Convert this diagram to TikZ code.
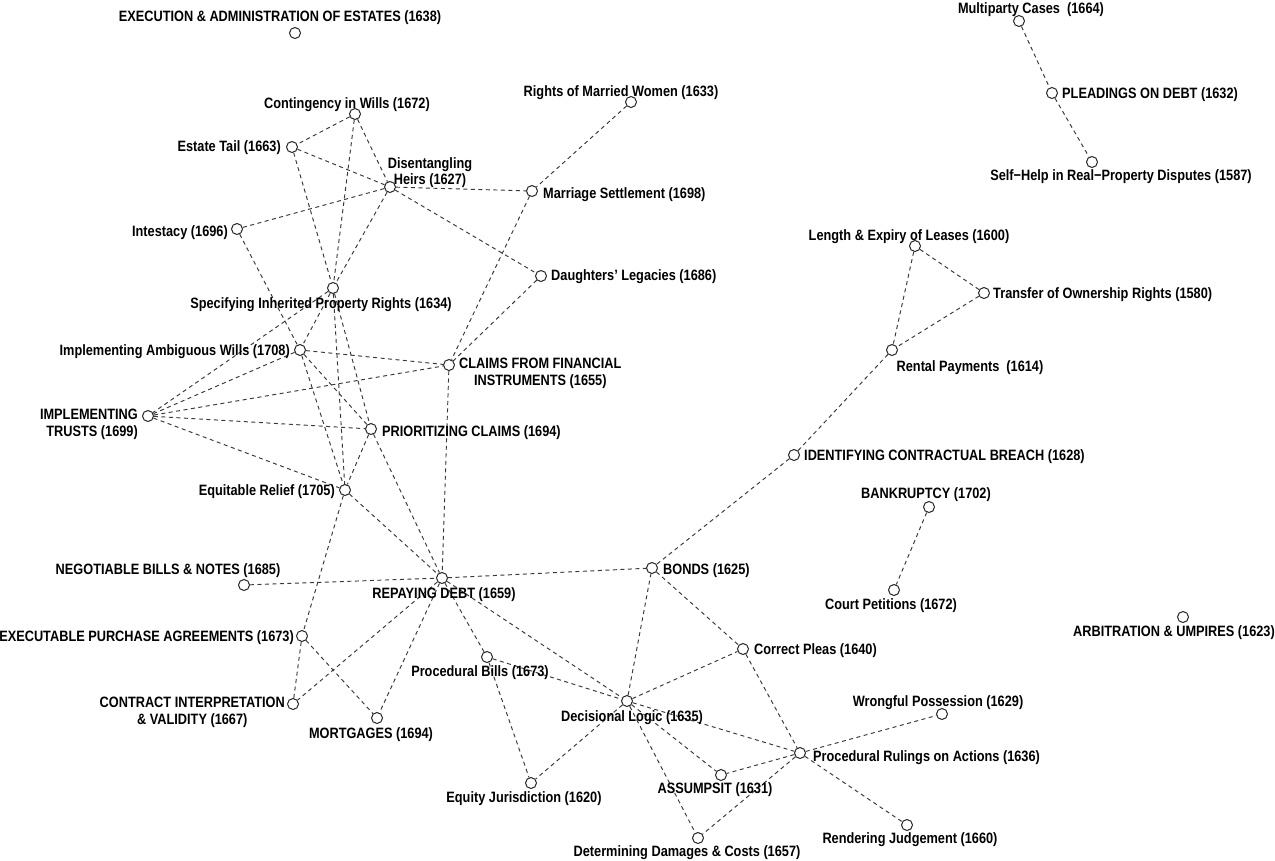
\documentclass[tikz,border=0pt]{standalone}
\usepackage{fontspec}
\setmainfont{Liberation Sans}[FakeStretch=0.85]
\usetikzlibrary{backgrounds}
\begin{document}
\begin{tikzpicture}[x=1pt,y=-1pt,
  vtx/.style={circle, draw=black!85, fill=white, line width=1pt, minimum size=11pt, inner sep=0pt},
  lbl/.style={inner sep=0pt, yshift=-1.5pt, font=\bfseries\fontsize{15}{16.5}\selectfont, text=black},
  lnk/.style={draw=black!78, line width=0.95pt, dash pattern=on 4pt off 3.5pt}]
\useasboundingbox (0,0) rectangle (1275,860);
% vertices
\node[vtx] (exec) at (295,33) {};
\node[vtx] (multi) at (1019,21) {};
\node[vtx] (plead) at (1052,93) {};
\node[vtx] (selfhelp) at (1092,162) {};
\node[vtx] (cont) at (355,114) {};
\node[vtx] (etail) at (292,147) {};
\node[vtx] (dis) at (390,187) {};
\node[vtx] (rights) at (631,102) {};
\node[vtx] (marr) at (532,191) {};
\node[vtx] (intest) at (237,229) {};
\node[vtx] (daught) at (541,276) {};
\node[vtx] (spec) at (333,288) {};
\node[vtx] (ambig) at (300,350) {};
\node[vtx] (claims) at (449,365) {};
\node[vtx] (trusts) at (148,416) {};
\node[vtx] (prior) at (371,429) {};
\node[vtx] (ident) at (794,455) {};
\node[vtx] (equit) at (345,490) {};
\node[vtx] (bankr) at (929,507) {};
\node[vtx] (negot) at (244,585) {};
\node[vtx] (repay) at (442,578) {};
\node[vtx] (bonds) at (652,568) {};
\node[vtx] (court) at (894,590) {};
\node[vtx] (arbit) at (1183,617) {};
\node[vtx] (purch) at (302,636) {};
\node[vtx] (pleas) at (743,649) {};
\node[vtx] (pbills) at (487,657) {};
\node[vtx] (contract) at (293,704) {};
\node[vtx] (wrong) at (942,714) {};
\node[vtx] (decis) at (627,701) {};
\node[vtx] (mortg) at (377,718) {};
\node[vtx] (rulings) at (800,753) {};
\node[vtx] (assump) at (721,775) {};
\node[vtx] (equity) at (531,783) {};
\node[vtx] (render) at (907,825) {};
\node[vtx] (damages) at (698,838) {};
\node[vtx] (length) at (915,246) {};
\node[vtx] (transfer) at (984,293) {};
\node[vtx] (rental) at (892,350) {};
% labels
\node[lbl] (l-exec) at (280,16) {EXECUTION \& ADMINISTRATION OF ESTATES (1638)};
\node[lbl] (l-multi) at (1031,8) {Multiparty Cases\ \ (1664)};
\node[lbl, anchor=west] (l-plead) at (1062,93) {PLEADINGS ON DEBT (1632)};
\node[lbl] (l-selfhelp) at (1121,175) {Self\textminus Help in Real\textminus Property Disputes (1587)};
\node[lbl] (l-cont) at (347,103) {Contingency in Wills (1672)};
\node[lbl, anchor=east] (l-etail) at (281,146) {Estate Tail (1663)};
\node[lbl, align=center] (l-dis) at (430,171) {Disentangling\\Heirs (1627)};
\node[lbl] (l-rights) at (621,91) {Rights of Married Women (1633)};
\node[lbl, anchor=west] (l-marr) at (543,193) {Marriage Settlement (1698)};
\node[lbl, anchor=east] (l-intest) at (228,231) {Intestacy (1696)};
\node[lbl, anchor=west] (l-daught) at (551,275) {Daughters' Legacies (1686)};
\node[lbl] (l-spec) at (321,303) {Specifying Inherited Property Rights (1634)};
\node[lbl, anchor=east] (l-ambig) at (290,350) {Implementing Ambiguous Wills (1708)};
\node[lbl, anchor=west, align=center] (l-claims) at (459,372) {CLAIMS FROM FINANCIAL\\INSTRUMENTS (1655)};
\node[lbl, anchor=east, align=right] (l-trusts) at (138,423) {IMPLEMENTING\\TRUSTS (1699)};
\node[lbl, anchor=west] (l-prior) at (382,431) {PRIORITIZING CLAIMS (1694)};
\node[lbl, anchor=west] (l-ident) at (804,455) {IDENTIFYING CONTRACTUAL BREACH (1628)};
\node[lbl, anchor=east] (l-equit) at (335,490) {Equitable Relief (1705)};
\node[lbl] (l-bankr) at (926,493) {BANKRUPTCY (1702)};
\node[lbl] (l-negot) at (168,569) {NEGOTIABLE BILLS \& NOTES (1685)};
\node[lbl] (l-repay) at (444,593) {REPAYING DEBT (1659)};
\node[lbl, anchor=west] (l-bonds) at (663,569) {BONDS (1625)};
\node[lbl] (l-court) at (891,604) {Court Petitions (1672)};
\node[lbl] (l-arbit) at (1174,631) {ARBITRATION \& UMPIRES (1623)};
\node[lbl, anchor=east] (l-purch) at (294,636) {EXECUTABLE PURCHASE AGREEMENTS (1673)};
\node[lbl, anchor=west] (l-pleas) at (754,649) {Correct Pleas (1640)};
\node[lbl] (l-pbills) at (480,671) {Procedural Bills (1673)};
\node[lbl, anchor=east, align=center] (l-contract) at (285,711) {CONTRACT INTERPRETATION\\\& VALIDITY (1667)};
\node[lbl] (l-wrong) at (938,701) {Wrongful Possession (1629)};
\node[lbl] (l-decis) at (632,716) {Decisional Logic (1635)};
\node[lbl] (l-mortg) at (371,733) {MORTGAGES (1694)};
\node[lbl, anchor=west] (l-rulings) at (813,756) {Procedural Rulings on Actions (1636)};
\node[lbl] (l-assump) at (715,788) {ASSUMPSIT (1631)};
\node[lbl] (l-equity) at (524,797) {Equity Jurisdiction (1620)};
\node[lbl] (l-render) at (910,838) {Rendering Judgement (1660)};
\node[lbl] (l-damages) at (687,851) {Determining Damages \& Costs (1657)};
\node[lbl] (l-length) at (909,235) {Length \& Expiry of Leases (1600)};
\node[lbl, anchor=west] (l-transfer) at (993,293) {Transfer of Ownership Rights (1580)};
\node[lbl] (l-rental) at (970,366) {Rental Payments\ \ (1614)};
% edges
\begin{scope}[on background layer]
\fill[white] (0,0) rectangle (1275,860);
\foreach \a/\b in {multi/plead, plead/selfhelp,
  length/transfer, length/rental, transfer/rental, rental/ident, ident/bonds,
  bankr/court,
  cont/etail, cont/dis, cont/spec, etail/dis, etail/spec,
  dis/intest, dis/marr, dis/daught, dis/spec,
  rights/marr, marr/claims, daught/claims, intest/ambig,
  spec/ambig, spec/trusts, spec/equit, spec/prior,
  ambig/trusts, ambig/claims, ambig/equit, ambig/prior,
  trusts/claims, trusts/prior, trusts/equit,
  prior/equit, prior/repay, claims/repay, equit/repay, equit/purch,
  negot/repay, repay/bonds, repay/contract, repay/mortg, repay/pbills, repay/decis,
  purch/contract, purch/mortg, pbills/equity, pbills/decis,
  decis/bonds, decis/pleas, decis/equity, decis/rulings, decis/assump, decis/damages,
  bonds/pleas, pleas/rulings,
  rulings/wrong, rulings/render, rulings/assump, rulings/damages}
  \draw[lnk] (\a) -- (\b);
\end{scope}
\end{tikzpicture}
\end{document}
